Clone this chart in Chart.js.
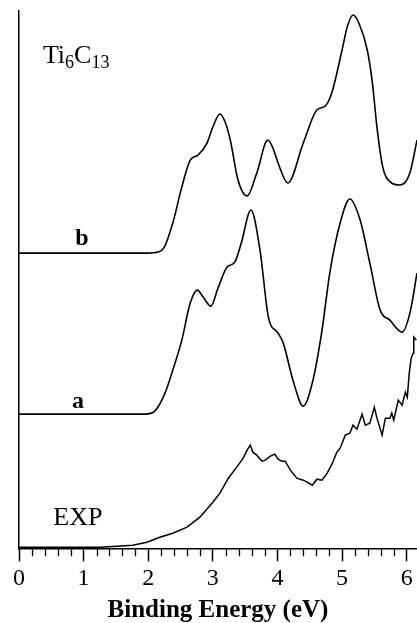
<!DOCTYPE html>
<html>
<head>
<meta charset="utf-8">
<script src="https://cdn.jsdelivr.net/npm/chart.js@4/dist/chart.umd.min.js"></script>
<style>
  html, body { margin: 0; padding: 0; background: #fff; }
  #wrap { width: 417px; height: 623px; position: relative; }
</style>
</head>
<body>
<div id="wrap"><canvas id="chartCanvas"></canvas></div>
<script>
// Binding energy (eV) and intensity (arb. units)
const bEnergy = [0, 2.0, 2.15, 2.25, 2.38, 2.52, 2.65, 2.77, 2.91, 3.0, 3.11, 3.19, 3.27, 3.39, 3.53, 3.68, 3.85, 3.93, 4.01, 4.16, 4.40, 4.61, 4.74, 4.84, 5.00, 5.08, 5.17, 5.26, 5.39, 5.47, 5.54, 5.63, 5.75, 5.90, 6.05, 6.16];
const bIntensity = [296, 296, 297, 302, 326, 362, 389, 394, 406, 422, 435, 427, 409, 369, 353, 376, 409, 401, 386, 366, 406, 439, 443, 456, 499, 522, 534, 526, 499, 466, 422, 382, 367, 364, 376, 409];

const aEnergy = [0, 1.95, 2.1, 2.26, 2.38, 2.52, 2.65, 2.76, 2.85, 2.97, 3.08, 3.22, 3.34, 3.44, 3.59, 3.73, 3.86, 4.01, 4.09, 4.24, 4.40, 4.55, 4.69, 4.81, 4.97, 5.12, 5.28, 5.43, 5.59, 5.74, 5.93, 6.05, 6.16];
const aIntensity = [135, 135, 138, 156, 179, 209, 246, 259, 252, 243, 261, 282, 287, 306, 339, 299, 232, 216, 206, 169, 143, 169, 219, 276, 326, 350, 329, 286, 239, 229, 217, 236, 276];

const expEnergy = [0, 0.63, 1.25, 1.52, 1.76, 1.98, 2.18, 2.38, 2.60, 2.80, 3.00, 3.11, 3.24, 3.37, 3.47, 3.53, 3.58, 3.62, 3.68, 3.76, 3.81, 3.89, 3.96, 4.01, 4.07, 4.12, 4.20, 4.30, 4.40, 4.46, 4.54, 4.61, 4.69, 4.77, 4.85, 4.92, 4.97, 5.05, 5.12, 5.17, 5.23, 5.31, 5.36, 5.43, 5.50, 5.54, 5.62, 5.67, 5.74, 5.77, 5.80, 5.87, 5.93, 5.98, 6.01, 6.04, 6.07, 6.10, 6.11, 6.15];
const expIntensity = [2, 2, 2, 3, 4, 7, 12, 16, 22, 32, 47, 56, 71, 82, 91, 99, 104, 97, 94, 88, 89, 93, 95, 90, 88, 88, 79, 71, 69, 67, 64, 70, 69, 76, 86, 97, 101, 114, 116, 124, 120, 135, 124, 126, 142, 131, 114, 131, 131, 136, 129, 149, 144, 157, 152, 176, 191, 196, 212, 209];

const xTicks = [0, 1, 2, 3, 4, 5, 6];

const serif = "'Liberation Serif', 'Times New Roman', serif";

const toPoints = (xs, ys) => xs.map((x, i) => ({ x: x, y: ys[i] }));

const curveStyle = {
    borderColor: '#000',
    borderWidth: 1.6,
    pointRadius: 0,
    fill: false
};

// minor ticks + curve labels
const decorPlugin = {
    id: 'decor',
    afterDraw(chart) {
        const ctx = chart.ctx;
        const xs = chart.scales.x;
        const ys = chart.scales.y;
        const bottom = chart.chartArea.bottom;

        ctx.save();
        ctx.strokeStyle = '#000';
        ctx.lineWidth = 1.3;
        for (let i = 1; i <= 30; i++) {
            if (i % 5 === 0) continue;
            const px = Math.round(xs.getPixelForValue(i * 0.2)) + 0.5;
            ctx.beginPath();
            ctx.moveTo(px, bottom);
            ctx.lineTo(px, bottom + 7);
            ctx.stroke();
        }

        ctx.fillStyle = '#000';
        ctx.textBaseline = 'alphabetic';
        ctx.textAlign = 'left';

        // Ti6C13 with subscripts
        let x = xs.getPixelForValue(0.37);
        const y = ys.getPixelForValue(486);
        const parts = [['Ti', 26, 0], ['6', 18, 5], ['C', 26, 0], ['13', 18, 5]];
        parts.forEach(([t, size, dy]) => {
            ctx.font = `${size}px ${serif}`;
            ctx.fillText(t, x, y + dy);
            x += ctx.measureText(t).width;
        });

        ctx.font = `bold 24px ${serif}`;
        ctx.fillText('b', xs.getPixelForValue(0.87), ys.getPixelForValue(304));
        ctx.fillText('a', xs.getPixelForValue(0.82), ys.getPixelForValue(141));

        ctx.font = `26px ${serif}`;
        ctx.fillText('EXP', xs.getPixelForValue(0.53), ys.getPixelForValue(24));
        ctx.restore();
    }
};

const chartCanvas = document.getElementById('chartCanvas');

new Chart(chartCanvas, {
    type: 'line',
    data: {
        datasets: [
            { label: 'b', data: toPoints(bEnergy, bIntensity), cubicInterpolationMode: 'monotone', ...curveStyle },
            { label: 'a', data: toPoints(aEnergy, aIntensity), cubicInterpolationMode: 'monotone', ...curveStyle },
            { label: 'EXP', data: toPoints(expEnergy, expIntensity), tension: 0, ...curveStyle, borderWidth: 1.5 }
        ]
    },
    options: {
        responsive: true,
        maintainAspectRatio: false,
        animation: false,
        events: [],
        layout: { padding: { top: 11, left: 19, right: 0, bottom: -3 } },
        plugins: {
            legend: { display: false },
            tooltip: { enabled: false }
        },
        scales: {
            x: {
                type: 'linear',
                min: 0,
                max: 6.16,
                afterBuildTicks: (scale) => {
                    scale.ticks = xTicks.map(v => ({ value: v }));
                },
                grid: {
                    drawOnChartArea: false,
                    drawTicks: true,
                    tickLength: 12,
                    tickColor: '#000',
                    tickWidth: 1.5
                },
                border: { display: true, color: '#000', width: 1.5 },
                ticks: {
                    color: '#000',
                    padding: 3,
                    maxRotation: 0,
                    font: { family: serif, size: 24 }
                },
                title: {
                    display: true,
                    text: 'Binding Energy (eV)',
                    color: '#000',
                    padding: { top: 0, bottom: 0 },
                    font: { family: serif, size: 25, weight: 'bold' }
                }
            },
            y: {
                type: 'linear',
                min: 0,
                max: 538,
                grid: { display: false, drawTicks: false },
                border: { display: true, color: '#000', width: 1.5 },
                ticks: { display: false }
            }
        }
    },
    plugins: [decorPlugin]
});
</script>
</body>
</html>
